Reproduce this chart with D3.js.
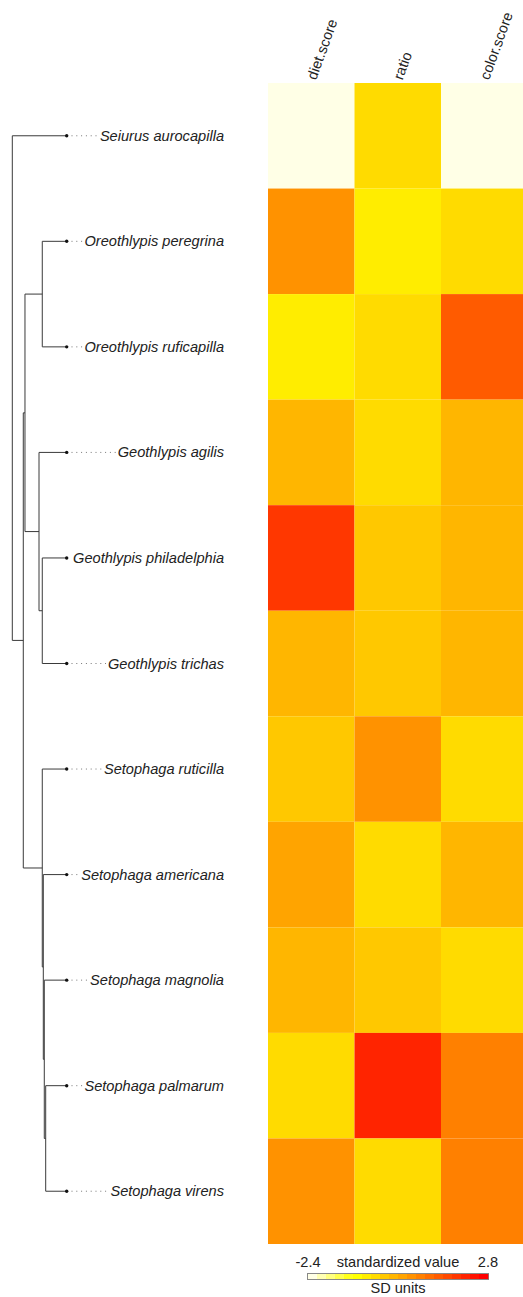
<!DOCTYPE html>
<html>
<head>
<meta charset="utf-8">
<script src="https://cdn.jsdelivr.net/npm/d3@7"></script>
<style>
  html, body { margin: 0; padding: 0; background: #fff; }
  svg { display: block; }
  text { font-family: "Liberation Sans", Arial, sans-serif; fill: #222; }
</style>
</head>
<body>
<svg id="chart" width="523" height="1297"></svg>
<script>
// Phylogeny of the warblers (ultrametric, total depth 1)
const treeNewick =
  "(Seiurus_aurocapilla:1.0," +
  "(((Oreothlypis_peregrina:0.449,Oreothlypis_ruficapilla:0.449):0.318," +
  "(Geothlypis_agilis:0.509,(Geothlypis_philadelphia:0.449,Geothlypis_trichas:0.449):0.060):0.258):0.031," +
  "(Setophaga_ruticilla:0.449,(Setophaga_americana:0.430,(Setophaga_magnolia:0.412," +
  "(Setophaga_palmarum:0.386,Setophaga_virens:0.386):0.026):0.018):0.019):0.349):0.202);";

// Trait columns and their standardized values, in tip order (top to bottom)
const traits = ["diet.score", "ratio", "color.score"];
const tipOrder = [
  "Seiurus aurocapilla", "Oreothlypis peregrina", "Oreothlypis ruficapilla",
  "Geothlypis agilis", "Geothlypis philadelphia", "Geothlypis trichas",
  "Setophaga ruticilla", "Setophaga americana", "Setophaga magnolia",
  "Setophaga palmarum", "Setophaga virens"
];
const dietScore  = [-2.35, 0.62, -0.68, 0.10, 1.93, 0.05, -0.22, 0.36, 0.02, -0.48, 0.58];
const ratio      = [-0.47, -0.75, -0.40, -0.42, -0.15, -0.20, 0.61, -0.50, -0.23, 2.20, -0.55];
const colorScore = [-2.40, -0.44, 1.40, 0.12, 0.08, 0.15, -0.52, 0.04, -0.37, 0.88, 0.95];

// Reversed heat palette, 20 steps (light -> red)
const heatPalette = [
  "#FFFFE6", "#FFFFB3", "#FFFF80", "#FFFF4D", "#FFFF1A",
  "#FFFF00", "#FFED00", "#FFDB00", "#FFC800", "#FFB600",
  "#FFA400", "#FF9200", "#FF8000", "#FF6D00", "#FF5B00",
  "#FF4900", "#FF3700", "#FF2400", "#FF1200", "#FF0000"
];
const valueRange = [-2.4, 2.8];
const legendTitle = "standardized value";
const legendSubtitle = "SD units";

// ---- Newick parsing ----
function parseNewick(s) {
  let i = 0;
  function node() {
    const n = { children: [] };
    if (s[i] === "(") {
      i++;
      n.children.push(node());
      while (s[i] === ",") { i++; n.children.push(node()); }
      i++; // closing paren
    }
    let name = "";
    while (i < s.length && !":,();".includes(s[i])) name += s[i++];
    n.name = name.replace(/_/g, " ");
    n.length = 0;
    if (s[i] === ":") {
      i++;
      let num = "";
      while (i < s.length && !",();".includes(s[i])) num += s[i++];
      n.length = +num;
    }
    return n;
  }
  return node();
}

const root = d3.hierarchy(parseNewick(treeNewick), d => d.children.length ? d.children : null);
root.eachBefore(d => { d.h = d.parent ? d.parent.h + d.data.length : 0; });
const leaves = root.leaves();

const svg = d3.select("#chart");

// ---- Scales ----
const yBand = d3.scaleBand().domain(leaves.map(d => d.data.name)).range([83, 1244]);
const xTree = d3.scaleLinear().domain([0, d3.max(leaves, d => d.h)]).range([12.3, 66.7]);
const xBand = d3.scaleBand().domain(traits).range([268, 527.5]);
const color = d3.scaleQuantize().domain(valueRange).range(heatPalette);

leaves.forEach(d => { d.y = yBand(d.data.name) + yBand.bandwidth() / 2; });
root.eachAfter(d => {
  if (d.children) d.y = (d.children[0].y + d.children[d.children.length - 1].y) / 2;
});

// ---- Tree ----
const gTree = svg.append("g").attr("stroke", "#3a3a3a").attr("stroke-width", 1).attr("fill", "none");
root.descendants().forEach(d => {
  if (d.children) {
    const c0 = d.children[0], c1 = d.children[d.children.length - 1];
    gTree.append("line")
      .attr("x1", xTree(d.h)).attr("x2", xTree(d.h))
      .attr("y1", c0.y).attr("y2", c1.y);
  }
  if (d.parent) {
    gTree.append("line")
      .attr("x1", xTree(d.parent.h)).attr("x2", xTree(d.h))
      .attr("y1", d.y).attr("y2", d.y);
  }
});

// ---- Tip labels, leaders and tip points ----
const labelRight = 224;
const gTips = svg.append("g");
leaves.forEach(d => {
  const label = gTips.append("text")
    .attr("x", labelRight).attr("y", d.y)
    .attr("text-anchor", "end")
    .attr("dominant-baseline", "central")
    .attr("font-style", "italic")
    .attr("font-size", "14.6px")
    .text(d.data.name);
  const w = label.node().getComputedTextLength();
  gTips.insert("line", "text")
    .attr("x1", xTree(d.h)).attr("x2", labelRight - w - 2)
    .attr("y1", d.y).attr("y2", d.y)
    .attr("stroke", "#777").attr("stroke-width", 1)
    .attr("stroke-dasharray", "1,3.8");
  gTips.append("circle")
    .attr("cx", xTree(d.h)).attr("cy", d.y).attr("r", 1.7)
    .attr("fill", "#111");
});

// ---- Heatmap ----
const columns = { "diet.score": dietScore, "ratio": ratio, "color.score": colorScore };
const cells = [];
traits.forEach(t => tipOrder.forEach((sp, i) => cells.push({ trait: t, species: sp, value: columns[t][i] })));

svg.append("g").selectAll("rect").data(cells).join("rect")
  .attr("x", d => xBand(d.trait))
  .attr("y", d => yBand(d.species))
  .attr("width", xBand.bandwidth())
  .attr("height", yBand.bandwidth())
  .attr("fill", d => color(d.value));

// Column headers, rotated
svg.append("g").selectAll("text").data(traits).join("text")
  .attr("transform", t => `translate(${xBand(t) + xBand.bandwidth() / 2},79) rotate(-70)`)
  .attr("text-anchor", "start")
  .attr("dominant-baseline", "central")
  .attr("font-size", "14.6px")
  .text(t => t);

// ---- Colour bar legend ----
const barX = d3.scaleLinear().domain(valueRange).range([308, 488]);
const barY = 1274, barH = 5;
const segs = d3.scaleBand().domain(d3.range(heatPalette.length)).range(barX.range());
const gLeg = svg.append("g");
gLeg.append("rect")
  .attr("x", barX.range()[0] - 1).attr("y", barY - 1)
  .attr("width", barX.range()[1] - barX.range()[0] + 2).attr("height", barH + 2)
  .attr("fill", "#888");
gLeg.selectAll("rect.seg").data(heatPalette).join("rect")
  .attr("class", "seg")
  .attr("x", (c, i) => segs(i)).attr("y", barY)
  .attr("width", segs.bandwidth() + 0.3).attr("height", barH)
  .attr("fill", c => c);

gLeg.selectAll("text.lim").data(valueRange).join("text")
  .attr("class", "lim")
  .attr("x", v => barX(v)).attr("y", 1267)
  .attr("text-anchor", "middle")
  .attr("font-size", "14.6px")
  .text(v => String(v));
gLeg.append("text")
  .attr("x", (barX.range()[0] + barX.range()[1]) / 2).attr("y", 1267)
  .attr("text-anchor", "middle").attr("font-size", "14.6px")
  .text(legendTitle);
gLeg.append("text")
  .attr("x", (barX.range()[0] + barX.range()[1]) / 2).attr("y", 1293)
  .attr("text-anchor", "middle").attr("font-size", "14.6px")
  .text(legendSubtitle);
</script>
</body>
</html>
